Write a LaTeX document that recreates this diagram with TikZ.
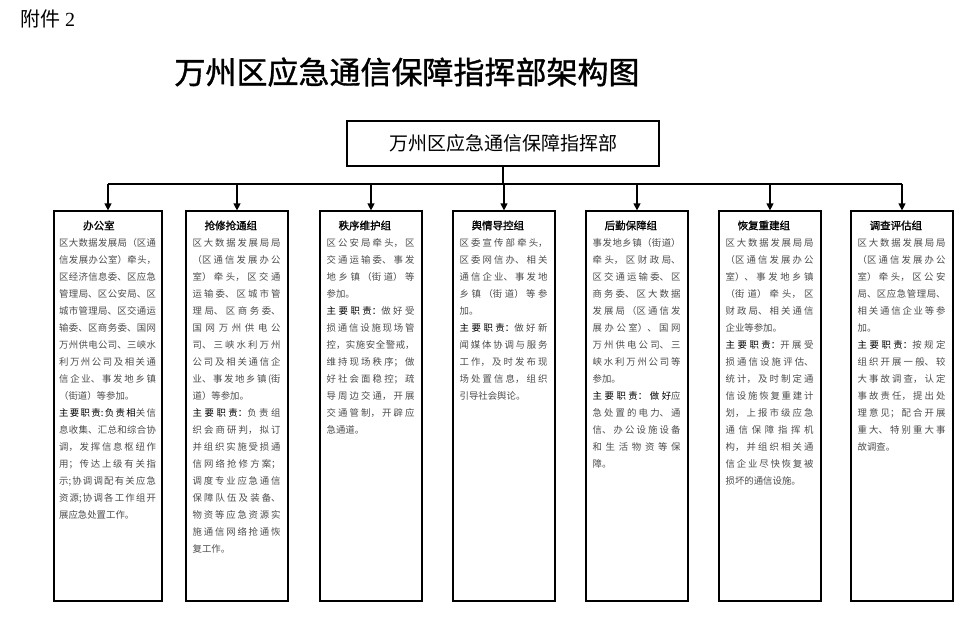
\documentclass[tikz,border=0pt]{standalone}
\usepackage{fontspec}
\newfontfamily\cjk{Noto Sans CJK SC}
\newfontfamily\cjkb[FakeBold=1.2]{Noto Sans CJK SC}
\newfontfamily\tms{Liberation Serif}
\usetikzlibrary{arrows.meta}
\XeTeXlinebreaklocale "zh"
\XeTeXlinebreakskip=0pt plus 2pt
\tolerance=10000
\hbadness=10000

\begin{document}
\begin{tikzpicture}[x=1pt,y=-1pt,
	box/.style={shape=rectangle,draw=black,line width=1.2pt,inner sep=0pt},
	grp/.style={box,minimum width=102pt,minimum height=390pt},
	txt/.style={anchor=north west,inner sep=0pt,text width=88pt,align=justify,text=black!70,font=\cjk\fontsize{9.4}{17}\selectfont},
	line/.style={line width=1.2pt},
	>={Triangle[width=7pt,length=7pt]}]
	\useasboundingbox (0,0) rectangle (980,616);

	\node [font=\cjk\fontsize{20}{20}\selectfont] (fj) at (48,19) {附件 {\tms 2}};
	\node [font=\cjkb\fontsize{31}{31}\selectfont] (title) at (407,72) {万州区应急通信保障指挥部架构图};
	\node [box,minimum width=312pt,minimum height=45pt,font=\cjk\fontsize{19}{19}\selectfont] (zhb) at (503,143.5) {万州区应急通信保障指挥部};

	\node [grp,minimum width=108pt] (bgs) at (108,406) {};
	\node [grp] (qxqt) at (237,406) {};
	\node [grp] (zxwh) at (371,406) {};
	\node [grp] (yqdk) at (504,406) {};
	\node [grp] (hqbz) at (637,406) {};
	\node [grp] (hfcj) at (770,406) {};
	\node [grp] (dcpg) at (902,406) {};

	\node [txt,text width=97pt] (bgs-t) at ([xshift=5.5pt,yshift=-10pt]bgs.north west) {%
{\cjkb\fontsize{10.5}{17}\selectfont\color{black}\hspace*{24pt}办公室\par}
区大数据发展局（区通\linebreak
信发展办公室）牵头，\linebreak
区经济信息委、区应急\linebreak
管理局、区公安局、区\linebreak
城市管理局、区交通运\linebreak
输委、区商务委、国网\linebreak
万州供电公司、三峡水\linebreak
利万州公司及相关通\linebreak
信企业、事发地乡镇\linebreak
（街道）等参加。\par
{\color{black}主要职责:负责相}关信\linebreak
息收集、汇总和综合协\linebreak
调，发挥信息枢纽作\linebreak
用；传达上级有关指\linebreak
示;协调调配有关应急\linebreak
资源;协调各工作组开\linebreak
展应急处置工作。\par};

	\node [txt] (qxqt-t) at ([xshift=7pt,yshift=-10pt]qxqt.north west) {%
{\cjkb\fontsize{10.5}{17}\selectfont\color{black}\hspace*{12pt}抢修抢通组\par}
区大数据发展局局\linebreak
（区通信发展办公\linebreak
室）牵头，区交通\linebreak
运输委、区城市管\linebreak
理局、区商务委、\linebreak
国网万州供电公\linebreak
司、三峡水利万州\linebreak
公司及相关通信企\linebreak
业、事发地乡镇(街\linebreak
道）等参加。\par
{\color{black}主要职责：}负责组\linebreak
织会商研判，拟订\linebreak
并组织实施受损通\linebreak
信网络抢修方案；\linebreak
调度专业应急通信\linebreak
保障队伍及装备、\linebreak
物资等应急资源实\linebreak
施通信网络抢通恢\linebreak
复工作。\par};

	\node [txt] (zxwh-t) at ([xshift=7pt,yshift=-10pt]zxwh.north west) {%
{\cjkb\fontsize{10.5}{17}\selectfont\color{black}\hspace*{12pt}秩序维护组\par}
区公安局牵头，区\linebreak
交通运输委、事发\linebreak
地乡镇（街道）等\linebreak
参加。\par
{\color{black}主要职责：}做好受\linebreak
损通信设施现场管\linebreak
控，实施安全警戒，\linebreak
维持现场秩序；做\linebreak
好社会面稳控；疏\linebreak
导周边交通，开展\linebreak
交通管制，开辟应\linebreak
急通道。\par};

	\node [txt] (yqdk-t) at ([xshift=7pt,yshift=-10pt]yqdk.north west) {%
{\cjkb\fontsize{10.5}{17}\selectfont\color{black}\hspace*{12pt}舆情导控组\par}
区委宣传部牵头，\linebreak
区委网信办、相关\linebreak
通信企业、事发地\linebreak
乡镇（街道）等参\linebreak
加。\par
{\color{black}主要职责：}做好新\linebreak
闻媒体协调与服务\linebreak
工作，及时发布现\linebreak
场处置信息，组织\linebreak
引导社会舆论。\par};

	\node [txt] (hqbz-t) at ([xshift=7pt,yshift=-10pt]hqbz.north west) {%
{\cjkb\fontsize{10.5}{17}\selectfont\color{black}\hspace*{12pt}后勤保障组\par}
事发地乡镇（街道）\linebreak
牵头，区财政局、\linebreak
区交通运输委、区\linebreak
商务委、区大数据\linebreak
发展局（区通信发\linebreak
展办公室）、国网\linebreak
万州供电公司、三\linebreak
峡水利万州公司等\linebreak
参加。\par
{\color{black}主要职责：做好}应\linebreak
急处置的电力、通\linebreak
信、办公设施设备\linebreak
和生活物资等保\linebreak
障。\par};

	\node [txt] (hfcj-t) at ([xshift=7pt,yshift=-10pt]hfcj.north west) {%
{\cjkb\fontsize{10.5}{17}\selectfont\color{black}\hspace*{12pt}恢复重建组\par}
区大数据发展局局\linebreak
（区通信发展办公\linebreak
室）、事发地乡镇\linebreak
（街道）牵头，区\linebreak
财政局、相关通信\linebreak
企业等参加。\par
{\color{black}主要职责：}开展受\linebreak
损通信设施评估、\linebreak
统计，及时制定通\linebreak
信设施恢复重建计\linebreak
划，上报市级应急\linebreak
通信保障指挥机\linebreak
构，并组织相关通\linebreak
信企业尽快恢复被\linebreak
损坏的通信设施。\par};

	\node [txt] (dcpg-t) at ([xshift=7pt,yshift=-10pt]dcpg.north west) {%
{\cjkb\fontsize{10.5}{17}\selectfont\color{black}\hspace*{12pt}调查评估组\par}
区大数据发展局局\linebreak
（区通信发展办公\linebreak
室）牵头，区公安\linebreak
局、区应急管理局、\linebreak
相关通信企业等参\linebreak
加。\par
{\color{black}主要职责：}按规定\linebreak
组织开展一般、较\linebreak
大事故调查，认定\linebreak
事故责任，提出处\linebreak
理意见；配合开展\linebreak
重大、特别重大事\linebreak
故调查。\par};

	\coordinate (bus) at (503,184);
	\draw [line] (zhb.south) -- (bus);
	\draw [line] (bgs.north |- bus) -- (dcpg.north |- bus);
	\path [line,->] (bgs.north |- bus) edge (bgs.north);
	\path [line,->] (qxqt.north |- bus) edge (qxqt.north);
	\path [line,->] (zxwh.north |- bus) edge (zxwh.north);
	\path [line,->] (yqdk.north |- bus) edge (yqdk.north);
	\path [line,->] (hqbz.north |- bus) edge (hqbz.north);
	\path [line,->] (hfcj.north |- bus) edge (hfcj.north);
	\path [line,->] (dcpg.north |- bus) edge (dcpg.north);
\end{tikzpicture}
\end{document}
